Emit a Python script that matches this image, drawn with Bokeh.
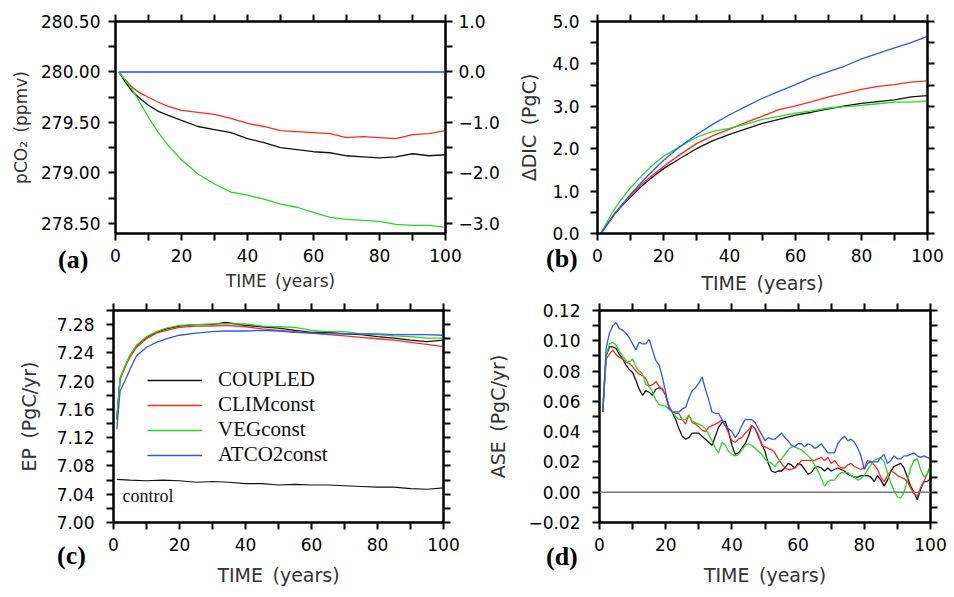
from bokeh.plotting import figure
from bokeh.models import (Range1d, LinearAxis, FixedTicker, CustomJSTickFormatter,
                          Label, Legend, LegendItem, Span, Div)
from bokeh.layouts import column, row
from bokeh.embed import file_html
from bokeh.resources import INLINE

# ---------------- data ----------------
series_names = ["COUPLED", "CLIMconst", "VEGconst", "ATCO2const"]
panel_letters = ["(a)", "(b)", "(c)", "(d)"]

x_ticks = [0, 20, 40, 60, 80, 100]
x_minor = [10, 30, 50, 70, 90]

# (a) atmospheric pCO2 (ppmv)
years_ab = [1, 3, 5, 7, 10, 13, 16, 20, 25, 30, 35, 40, 45, 50, 55, 60, 65, 70, 75, 80, 85, 90, 95, 100]
pco2_coupled = [280.00, 279.90, 279.81, 279.75, 279.67, 279.61, 279.57, 279.52, 279.46, 279.43, 279.40, 279.34,
                279.30, 279.25, 279.23, 279.21, 279.20, 279.17, 279.16, 279.15, 279.16, 279.19, 279.17, 279.18]
pco2_climconst = [280.00, 279.92, 279.85, 279.80, 279.75, 279.70, 279.66, 279.62, 279.60, 279.58, 279.54, 279.49,
                  279.46, 279.42, 279.41, 279.40, 279.39, 279.35, 279.36, 279.35, 279.34, 279.38, 279.39, 279.42]
pco2_vegconst = [280.00, 279.92, 279.83, 279.72, 279.55, 279.40, 279.27, 279.13, 278.99, 278.89, 278.81, 278.78,
                 278.74, 278.69, 278.66, 278.61, 278.56, 278.54, 278.53, 278.52, 278.49, 278.48, 278.48, 278.46]
pco2_atco2const = [280.00, 280.00, 280.00, 280.00, 280.00, 280.00, 280.00, 280.00, 280.00, 280.00, 280.00, 280.00,
                   280.00, 280.00, 280.00, 280.00, 280.00, 280.00, 280.00, 280.00, 280.00, 280.00, 280.00, 280.00]
pco2_ticks = [278.5, 279.0, 279.5, 280.0, 280.5]
pco2_minor = [278.75, 279.25, 279.75, 280.25]
dpco2_ticks = [-3.0, -2.0, -1.0, 0.0, 1.0]
dpco2_minor = [-2.5, -1.5, -0.5, 0.5]

# (b) Delta DIC (PgC)
dic_coupled = [0.00, 0.22, 0.44, 0.62, 0.86, 1.09, 1.29, 1.53, 1.77, 2.00, 2.19, 2.34,
               2.47, 2.60, 2.69, 2.79, 2.86, 2.94, 3.01, 3.07, 3.11, 3.15, 3.22, 3.25]
dic_climconst = [0.00, 0.22, 0.45, 0.63, 0.88, 1.13, 1.33, 1.58, 1.86, 2.12, 2.31, 2.46,
                 2.62, 2.77, 2.92, 3.01, 3.11, 3.22, 3.31, 3.40, 3.47, 3.51, 3.57, 3.60]
dic_vegconst = [0.00, 0.29, 0.56, 0.78, 1.08, 1.33, 1.56, 1.82, 2.05, 2.27, 2.41, 2.48,
                2.58, 2.69, 2.76, 2.84, 2.89, 2.96, 2.99, 3.02, 3.06, 3.10, 3.10, 3.13]
dic_atco2const = [0.00, 0.22, 0.45, 0.64, 0.92, 1.18, 1.42, 1.72, 2.05, 2.33, 2.58, 2.80,
                  3.00, 3.19, 3.35, 3.51, 3.68, 3.82, 3.95, 4.12, 4.25, 4.38, 4.50, 4.65]
dic_ticks = [0.0, 1.0, 2.0, 3.0, 4.0, 5.0]
dic_minor = [0.5, 1.5, 2.5, 3.5, 4.5]

# (c) export production EP (PgC/yr)
years_c = [1, 2, 3, 4, 5, 7, 10, 13, 16, 20, 25, 30, 34, 40, 45, 50, 55, 60, 65, 70, 75, 80, 85, 90, 95, 100]
ep_coupled = [7.146, 7.203, 7.215, 7.226, 7.236, 7.250, 7.262, 7.269, 7.274, 7.278, 7.280, 7.280, 7.283,
              7.279, 7.277, 7.275, 7.272, 7.269, 7.269, 7.267, 7.266, 7.263, 7.261, 7.258, 7.256, 7.258]
ep_climconst = [7.146, 7.203, 7.214, 7.225, 7.234, 7.248, 7.260, 7.268, 7.272, 7.276, 7.278, 7.278, 7.279,
                7.277, 7.274, 7.272, 7.270, 7.268, 7.266, 7.264, 7.262, 7.260, 7.258, 7.255, 7.252, 7.249]
ep_vegconst = [7.146, 7.205, 7.216, 7.227, 7.237, 7.251, 7.263, 7.270, 7.275, 7.279, 7.280, 7.281, 7.281,
               7.281, 7.278, 7.277, 7.276, 7.272, 7.270, 7.270, 7.267, 7.266, 7.264, 7.263, 7.261, 7.261]
ep_atco2const = [7.132, 7.186, 7.196, 7.206, 7.217, 7.236, 7.248, 7.255, 7.260, 7.265, 7.268, 7.270, 7.271,
                 7.271, 7.272, 7.271, 7.269, 7.268, 7.267, 7.267, 7.267, 7.267, 7.266, 7.266, 7.266, 7.265]
years_ctrl = [1, 5, 10, 15, 20, 25, 30, 35, 40, 45, 50, 55, 60, 65, 70, 75, 80, 85, 90, 95, 100]
ep_control = [7.061, 7.060, 7.059, 7.060, 7.059, 7.057, 7.058, 7.057, 7.055, 7.055, 7.053,
              7.054, 7.053, 7.053, 7.052, 7.051, 7.050, 7.050, 7.048, 7.047, 7.049]
ep_ticks = [7.00, 7.04, 7.08, 7.12, 7.16, 7.20, 7.24, 7.28]
ep_minor = [7.02, 7.06, 7.10, 7.14, 7.18, 7.22, 7.26, 7.30]

# (d) air-sea exchange ASE (PgC/yr), yearly
years_d = list(range(1, 101))
ase_coupled = [0.053, 0.090, 0.096, 0.096, 0.095, 0.091, 0.088, 0.084, 0.081, 0.079,
               0.074, 0.068, 0.064, 0.067, 0.066, 0.064, 0.068, 0.069, 0.068, 0.064,
               0.056, 0.053, 0.048, 0.042, 0.037, 0.035, 0.036, 0.039, 0.039, 0.039,
               0.037, 0.035, 0.033, 0.031, 0.037, 0.043, 0.046, 0.047, 0.040, 0.031,
               0.025, 0.026, 0.029, 0.032, 0.037, 0.044, 0.042, 0.037, 0.032, 0.027,
               0.019, 0.014, 0.013, 0.014, 0.014, 0.016, 0.019, 0.018, 0.016, 0.019,
               0.018, 0.015, 0.012, 0.013, 0.016, 0.017, 0.016, 0.014, 0.016, 0.014,
               0.015, 0.016, 0.015, 0.014, 0.012, 0.011, 0.010, 0.010, 0.011, 0.011,
               0.011, 0.010, 0.007, 0.011, 0.008, 0.004, 0.008, 0.014, 0.017, 0.018,
               0.019, 0.016, 0.010, 0.004, 0.000, -0.005, 0.002, 0.007, 0.007, 0.009]
ase_climconst = [0.053, 0.088, 0.091, 0.094, 0.091, 0.089, 0.088, 0.086, 0.085, 0.083,
                 0.080, 0.078, 0.077, 0.075, 0.070, 0.071, 0.073, 0.070, 0.068, 0.064,
                 0.057, 0.053, 0.052, 0.052, 0.048, 0.045, 0.051, 0.046, 0.045, 0.043,
                 0.041, 0.040, 0.043, 0.044, 0.045, 0.046, 0.048, 0.044, 0.039, 0.034,
                 0.033, 0.035, 0.036, 0.039, 0.041, 0.044, 0.042, 0.038, 0.031, 0.030,
                 0.029, 0.028, 0.026, 0.022, 0.019, 0.016, 0.015, 0.015, 0.016, 0.018,
                 0.021, 0.021, 0.021, 0.021, 0.021, 0.022, 0.023, 0.021, 0.023, 0.019,
                 0.021, 0.018, 0.016, 0.016, 0.018, 0.019, 0.017, 0.016, 0.015, 0.016,
                 0.021, 0.020, 0.018, 0.015, 0.010, 0.007, 0.011, 0.014, 0.013, 0.011,
                 0.010, 0.009, 0.007, 0.003, -0.001, -0.003, 0.003, 0.007, 0.012, 0.018]
ase_vegconst = [0.055, 0.090, 0.098, 0.099, 0.097, 0.093, 0.090, 0.087, 0.086, 0.088,
                0.083, 0.080, 0.078, 0.071, 0.070, 0.066, 0.061, 0.058, 0.057, 0.057,
                0.055, 0.053, 0.050, 0.048, 0.048, 0.048, 0.051, 0.047, 0.046, 0.045,
                0.044, 0.042, 0.038, 0.034, 0.029, 0.026, 0.033, 0.031, 0.027, 0.025,
                0.024, 0.025, 0.028, 0.031, 0.032, 0.031, 0.029, 0.027, 0.025, 0.022,
                0.020, 0.019, 0.017, 0.020, 0.022, 0.025, 0.028, 0.030, 0.030, 0.029,
                0.028, 0.026, 0.024, 0.022, 0.018, 0.014, 0.009, 0.004, 0.007, 0.008,
                0.008, 0.011, 0.013, 0.013, 0.013, 0.011, 0.010, 0.008, 0.009, 0.011,
                0.015, 0.018, 0.021, 0.022, 0.023, 0.020, 0.013, 0.006, 0.001, -0.003,
                -0.004, 0.000, 0.008, 0.016, 0.021, 0.022, 0.015, 0.010, 0.012, 0.017]
ase_atco2const = [0.054, 0.095, 0.105, 0.110, 0.112, 0.108, 0.107, 0.105, 0.102, 0.098,
                  0.094, 0.099, 0.098, 0.098, 0.101, 0.094, 0.087, 0.084, 0.076, 0.066,
                  0.055, 0.053, 0.053, 0.053, 0.055, 0.056, 0.062, 0.067, 0.069, 0.072,
                  0.076, 0.068, 0.061, 0.053, 0.052, 0.052, 0.048, 0.044, 0.042, 0.040,
                  0.036, 0.039, 0.044, 0.048, 0.048, 0.048, 0.046, 0.042, 0.038, 0.034,
                  0.036, 0.035, 0.035, 0.037, 0.039, 0.036, 0.034, 0.031, 0.030, 0.032,
                  0.032, 0.030, 0.032, 0.031, 0.029, 0.030, 0.032, 0.029, 0.026, 0.026,
                  0.026, 0.032, 0.035, 0.037, 0.034, 0.035, 0.033, 0.029, 0.024, 0.015,
                  0.019, 0.020, 0.020, 0.020, 0.023, 0.025, 0.019, 0.021, 0.024, 0.022,
                  0.022, 0.024, 0.024, 0.025, 0.026, 0.024, 0.023, 0.024, 0.023, 0.022]
ase_ticks = [-0.02, 0.00, 0.02, 0.04, 0.06, 0.08, 0.10, 0.12]
ase_minor = [-0.01, 0.01, 0.03, 0.05, 0.07, 0.09, 0.11]

# ---------------- style ----------------
COLORS = ["#111111", "#ff2a1a", "#1fdc1f", "#2d55ff"]
LW = 1.3
TICK_FONT = "DejaVu Sans"
LABEL_COLOR = "#333333"
SP = "\u2002"


def fmt(decimals):
    return CustomJSTickFormatter(
        code="return tick.toFixed(%d).replace('-', '\\u2212');" % decimals)


BLANK = "return '';"


def style_axis(ax, ticks, minor, formatter=None, labels=True, standoff=4):
    ax.ticker = FixedTicker(ticks=ticks, minor_ticks=minor)
    ax.axis_line_width = 2
    ax.axis_line_color = "black"
    ax.major_tick_in = 0
    ax.major_tick_out = 7
    ax.minor_tick_in = 0
    ax.minor_tick_out = 7
    ax.major_tick_line_width = 2
    ax.minor_tick_line_width = 2
    ax.major_label_text_font = TICK_FONT
    ax.major_label_text_font_size = "17px"
    ax.major_label_text_color = "black"
    ax.major_label_standoff = standoff
    if not labels:
        ax.formatter = CustomJSTickFormatter(code=BLANK)
    elif formatter is not None:
        ax.formatter = formatter
    ax.axis_label_text_font = TICK_FONT
    ax.axis_label_text_font_style = "normal"
    ax.axis_label_text_color = LABEL_COLOR


def make_panel(width, height, yr, ml, mr, mt, mb, yticks, yminor, ydec,
               xlabel, ylabel, label_size, y_standoff, y_label_standoff, x_label_standoff,
               right_axis=True):
    p = figure(width=width, height=height, x_range=Range1d(0, 100), y_range=Range1d(*yr),
               output_backend="svg", toolbar_location=None,
               x_axis_location=None, y_axis_location=None,
               min_border_left=ml, min_border_right=mr, min_border_top=mt, min_border_bottom=mb)
    p.grid.grid_line_color = None
    p.outline_line_color = "black"
    p.outline_line_width = 2
    p.background_fill_color = "white"
    p.border_fill_color = "white"

    xb = LinearAxis()
    style_axis(xb, x_ticks, x_minor, standoff=8)
    xb.axis_label = xlabel
    xb.axis_label_text_font_size = label_size
    xb.axis_label_standoff = x_label_standoff
    p.add_layout(xb, "below")

    xt = LinearAxis()
    style_axis(xt, x_ticks, x_minor, labels=False)
    p.add_layout(xt, "above")

    yl = LinearAxis()
    style_axis(yl, yticks, yminor, formatter=fmt(ydec), standoff=y_standoff)
    yl.axis_label = ylabel
    yl.axis_label_text_font_size = label_size
    yl.axis_label_standoff = y_label_standoff
    p.add_layout(yl, "left")

    if right_axis:
        yr_ax = LinearAxis()
        style_axis(yr_ax, yticks, yminor, labels=False)
        p.add_layout(yr_ax, "right")
    return p


def letter_div(text, left, top):
    return Div(text=text, styles={"position": "absolute", "left": "%dpx" % left, "top": "%dpx" % top,
                                  "font-family": "Liberation Serif", "font-weight": "bold",
                                  "font-size": "26px", "color": "black", "z-index": "10"})


# ---------------- (a) ----------------
pa = make_panel(508, 298, (278.4, 280.5), 115, 63, 20, 65, pco2_ticks, pco2_minor, 2,
                "TIME" + SP + "(years)", "pCO\u2082" + SP + "(ppmv)", "17px",
                y_standoff=8, y_label_standoff=7, x_label_standoff=6, right_axis=False)
pa.extra_y_ranges = {"delta": Range1d(-3.2, 1.0)}
ra = LinearAxis(y_range_name="delta")
style_axis(ra, dpco2_ticks, dpco2_minor, formatter=fmt(1), standoff=6)
pa.add_layout(ra, "right")
for ys, c in zip([pco2_coupled, pco2_climconst, pco2_vegconst], COLORS[:3]):
    pa.line(years_ab, ys, line_color=c, line_width=LW)
pa.line(years_ab, pco2_atco2const, line_color="#5577ff", line_width=2)

# ---------------- (b) ----------------
pb = make_panel(444, 298, (0.0, 5.0), 89, 25, 21, 65, dic_ticks, dic_minor, 1,
                "TIME" + SP + "(years)", "\u0394DIC" + SP + "(PgC)", "19px",
                y_standoff=11, y_label_standoff=9, x_label_standoff=7)
for ys, c in zip([dic_coupled, dic_climconst, dic_vegconst, dic_atco2const], COLORS):
    pb.line(years_ab, ys, line_color=c, line_width=LW)

# ---------------- (c) ----------------
pc = make_panel(478, 297, (7.00, 7.30), 113, 35, 12, 73, ep_ticks, ep_minor, 2,
                "TIME" + SP + "(years)", "EP" + SP + "(PgC/yr)", "19px",
                y_standoff=12, y_label_standoff=14, x_label_standoff=10)
items = []
for name, ys, c in zip(series_names, [ep_coupled, ep_climconst, ep_vegconst, ep_atco2const], COLORS):
    r = pc.line(years_c, ys, line_color=c, line_width=LW)
    items.append(LegendItem(label=name, renderers=[r]))
pc.line(years_ctrl, ep_control, line_color=COLORS[0], line_width=1.1)
pc.add_layout(Label(x=2.7, y=7.038, text="control", text_font="Liberation Serif",
                    text_font_size="18px", text_baseline="middle", text_color="#111111"))
leg = Legend(items=items, location=(34, 55), label_text_font="Liberation Serif",
             label_text_font_size="21px", label_text_color="#111111",
             glyph_width=55, glyph_height=20, label_height=23, label_standoff=16,
             spacing=0, padding=0, margin=0, border_line_alpha=0, background_fill_alpha=0)
pc.add_layout(leg)

# ---------------- (d) ----------------
pd_ = make_panel(474, 297, (-0.02, 0.12), 121, 22, 12, 73, ase_ticks, ase_minor, 2,
                 "TIME" + SP + "(years)", "ASE" + SP + "(PgC/yr)", "19px",
                 y_standoff=12, y_label_standoff=16, x_label_standoff=10)
pd_.add_layout(Span(location=0, dimension="width", line_color="#777777", line_width=1.5))
for ys, c in zip([ase_coupled, ase_climconst, ase_vegconst, ase_atco2const], COLORS):
    pd_.line(years_d, ys, line_color=c, line_width=LW)

# panel letters (placed over the figure corners)
letters = [letter_div(panel_letters[0], 53, 236), letter_div(panel_letters[1], 541, 235),
           letter_div(panel_letters[2], 52, 532), letter_div(panel_letters[3], 541, 533)]

layout = column(row(pa, pb, spacing=0), row(pc, pd_, spacing=0), *letters, spacing=0)
open("out.html", "w").write(file_html(layout, INLINE))
